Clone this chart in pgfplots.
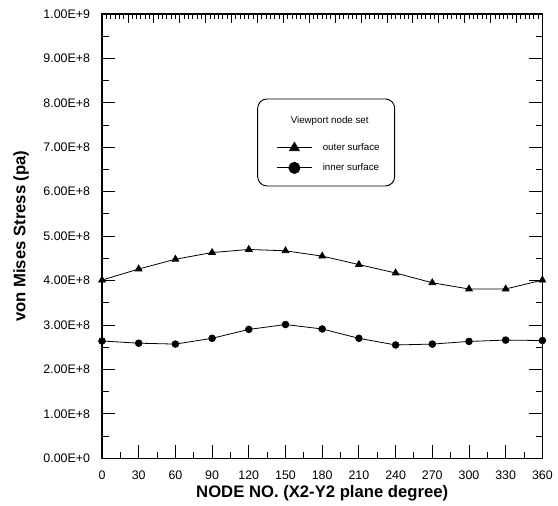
\documentclass[border=0pt]{standalone}
\usepackage{pgfplots}
\pgfplotsset{compat=1.18}
\usepackage{fontspec}
\setmainfont{Liberation Sans}

\begin{document}
\begin{tikzpicture}
  \begin{axis}[
    scale only axis,
    width=330.3pt, height=333.2pt,
    xmin=0, xmax=360, ymin=0, ymax=1e9,
    axis line style={line width=0.8pt},
    xtick={0,30,...,360},
    xticklabels={0,30,60,90,120,150,180,210,240,270,300,330,360},
    minor x tick num=1,
    xtick pos=left,
    ytick={0,1e8,2e8,3e8,4e8,5e8,6e8,7e8,8e8,9e8,1e9},
    yticklabels={0.00E+0,1.00E+8,2.00E+8,3.00E+8,4.00E+8,5.00E+8,6.00E+8,7.00E+8,8.00E+8,9.00E+8,1.00E+9},
    minor y tick num=1,
    ytick pos=both,
    scaled y ticks=false,
    tick align=inside,
    major tick length=10pt, minor tick length=5pt,
    tick style={line width=0.7pt, black},
    ticklabel style={font=\fontsize{9.3}{11}\selectfont},
    yticklabel style={xshift=-5.5pt},
    xticklabel style={yshift=-6pt},
    xlabel={\bfseries NODE NO. (X2-Y2 plane degree)},
    ylabel={\bfseries von Mises Stress (pa)},
    label style={font=\fontsize{12.5}{14}\selectfont},
    xlabel style={at={(axis description cs:0.5,-0.078)}, anchor=center},
    ylabel style={at={(axis description cs:-0.184,0.5)}, anchor=center},
    legend style={draw=none, fill=none, at={(rel axis cs:0.387,0.7187)}, anchor=north west,
      font=\fontsize{7.3}{8.5}\selectfont,
      nodes={inner sep=1pt, text height=5.5pt, text depth=1.5pt},
      row sep=6pt,
      /tikz/every odd column/.append style={column sep=7pt}},
    legend cell align=left,
    legend image code/.code={\draw[mark repeat=2,mark phase=2,#1,mark size=4.2pt]
      plot coordinates {(0pt,0pt)(13pt,0pt)(26pt,0pt)};},
  ]
    \addplot[black, line width=0.6pt, mark=triangle*, mark size=2.9pt,
      mark options={solid, fill=black}] coordinates {
      (0,4.01e8) (30,4.26e8) (60,4.48e8) (90,4.63e8) (120,4.70e8)
      (150,4.67e8) (180,4.55e8) (210,4.36e8) (240,4.17e8) (270,3.95e8)
      (300,3.81e8) (330,3.81e8) (360,4.01e8)};
    \addlegendentry{outer surface}
    \addplot[black, line width=0.6pt, mark=*, mark size=2.5pt,
      mark options={solid, fill=black}] coordinates {
      (0,2.64e8) (30,2.59e8) (60,2.57e8) (90,2.70e8) (120,2.90e8)
      (150,3.01e8) (180,2.91e8) (210,2.70e8) (240,2.55e8) (270,2.57e8)
      (300,2.63e8) (330,2.66e8) (360,2.65e8)};
    \addlegendentry{inner surface}
    \draw[line width=0.7pt, rounded corners=7pt]
      (rel axis cs:0.3535,0.6129) rectangle (rel axis cs:0.6646,0.8087);
    \node[font=\fontsize{7.3}{8.5}\selectfont] at (rel axis cs:0.517,0.7591) {Viewport node set};
  \end{axis}
  \begin{axis}[
    scale only axis,
    width=330.3pt, height=333.2pt,
    xmin=0, xmax=17, ymin=0, ymax=1,
    hide y axis,
    axis line style={line width=0.8pt},
    xtick={0,1,...,17},
    xticklabels={},
    minor x tick num=5,
    xtick pos=right,
    tick align=inside,
    major tick length=7pt, minor tick length=3.5pt,
    tick style={line width=0.6pt, black},
  ]
  \end{axis}
  \path[use as bounding box] (-76.5pt,-32.8pt) rectangle (342pt,343.7pt);
\end{tikzpicture}
\end{document}
